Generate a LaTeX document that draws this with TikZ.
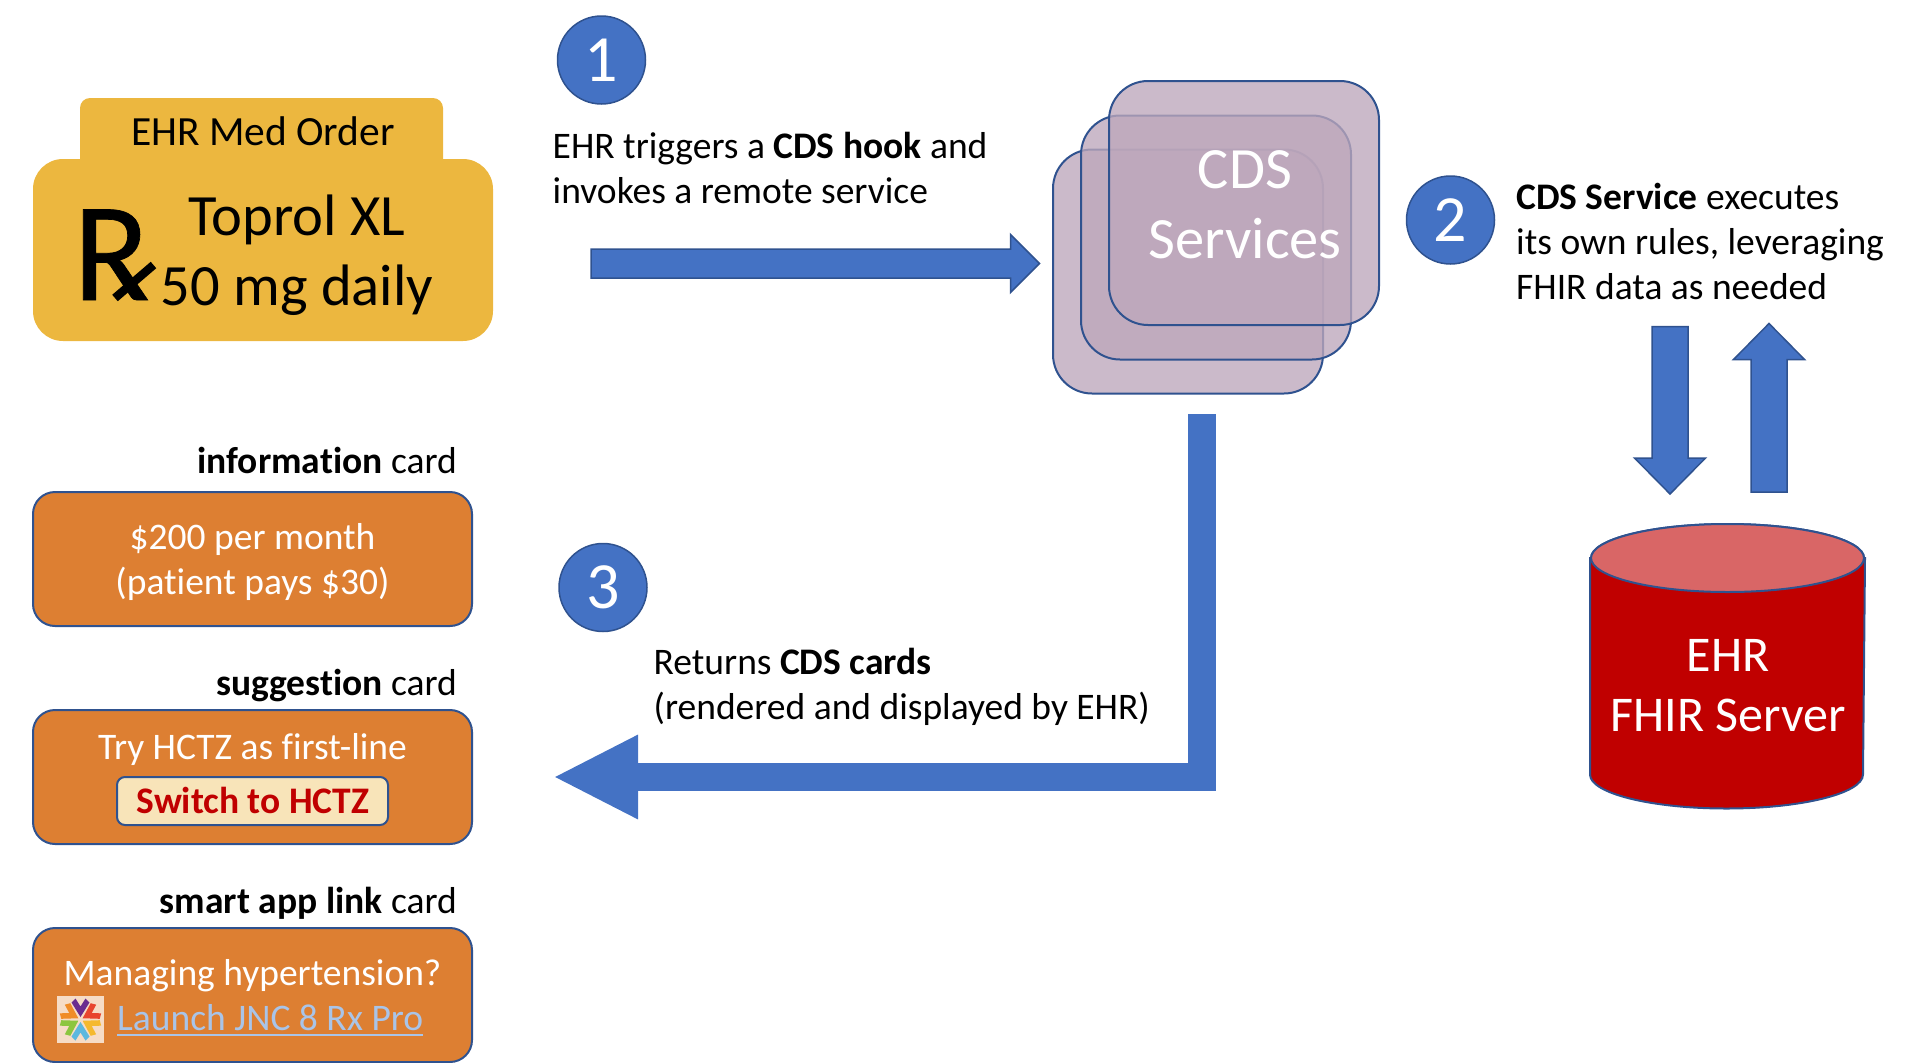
\documentclass[tikz,border=0pt]{standalone}
\usepackage{fontspec}
\usetikzlibrary{calc,shapes.geometric,arrows.meta}
\setmainfont[Ligatures=NoCommon]{Carlito}
\newfontfamily\rxfont[FakeBold=0.5]{Carlito}
\definecolor{bluefill}{HTML}{4472C4}
\definecolor{navy}{HTML}{2F528F}
\definecolor{gold}{HTML}{ECB73F}
\definecolor{cardorange}{HTML}{DD7F32}
\definecolor{mauve}{RGB}{189,167,187}
\definecolor{buttonfill}{HTML}{F8E4B9}
\definecolor{darkred}{HTML}{C00000}
\definecolor{toptint}{HTML}{D96666}
\definecolor{linkblue}{HTML}{A9C4E8}
\definecolor{iconbg}{HTML}{F6DCC6}
\newcommand{\blockarrow}[5]{%
  \coordinate (bam) at ($(#2)!#5!(#1)$);
  \path[blockshape] ($(#1)!#3!90:(#2)$) -- ($(bam)!#3!90:(#2)$) -- ($(bam)!#4!90:(#2)$) -- (#2)
    -- ($(bam)!#4!-90:(#2)$) -- ($(bam)!#3!-90:(#2)$) -- ($(#1)!#3!-90:(#2)$) -- cycle;}
\tikzset{
  x=1pt,y=-1pt,
  blockshape/.style={fill=bluefill,draw=navy,line width=1.5pt},
  body/.style={inner sep=0pt,font=\fontsize{37.5}{45}\selectfont,align=left,anchor=base west},
  labeltext/.style={inner sep=0pt,font=\fontsize{37.5}{45}\selectfont,anchor=base east},
  cardtext/.style={inner sep=0pt,font=\fontsize{37.5}{45}\selectfont,align=center,anchor=base,text=white},
  bigtext/.style={inner sep=0pt,font=\fontsize{58.5}{70}\selectfont,align=center,anchor=base},
  cardbox/.style={draw=navy,line width=2pt,fill=cardorange,rounded corners=22pt,minimum width=439pt,minimum height=134pt,inner sep=0pt},
  goldbox/.style={fill=gold,inner sep=0pt},
  servicebox/.style={draw=navy,line width=2pt,fill=mauve,fill opacity=.78,rounded corners=39pt,minimum width=270pt,minimum height=244pt,inner sep=0pt},
  stepdot/.style={circle,draw=navy,line width=1.5pt,fill=bluefill,minimum size=88pt,inner sep=0pt,text=white,font=\fontsize{66}{70}\selectfont},
  dbcapstyle/.style={ellipse,draw=navy,line width=2pt,fill=toptint,minimum width=273pt,minimum height=68pt,inner sep=0pt},
}
\begin{document}
\begin{tikzpicture}
\useasboundingbox (0,0) rectangle (1915,1063);
% EHR order
\node[goldbox,rounded corners=10pt,minimum width=363pt,minimum height=80pt] (tab) at (261.5,138) {};
\node[goldbox,rounded corners=30pt,minimum width=460pt,minimum height=182pt] (order) at (263,250) {};
\node[inner sep=0pt,font=\fontsize{41.5}{45}\selectfont,anchor=base] (ordertitle) at (263,145.5) {EHR Med Order};
\node[inner sep=0pt,font=\rxfont\fontsize{141}{141}\selectfont,anchor=base west] (rx) at (73,300) {R};
\draw[black,line width=8.5pt] (153.5,265) -- (115,298);
\node[bigtext] (drug) at (297,305) {Toprol XL\\50 mg daily};
% step 1
\node[stepdot] (one) at (601.5,60) {1};
\node[body] (onetext) at (552.5,203) {EHR triggers a \textbf{CDS hook} and\\invokes a remote service};
\coordinate (a1s) at (591,263.5);
\coordinate (a1e) at (1039.5,263.5);
\blockarrow{a1s}{a1e}{14.5pt}{29pt}{29pt}
% CDS services
\node[servicebox] (svc1) at (1188,271.5) {};
\node[servicebox] (svc2) at (1216,237.5) {};
\node[servicebox] (svc3) at (1244,203) {};
\node[bigtext,text=white] (svctext) at (1245,258) {CDS\\Services};
% step 2
\node[stepdot] (two) at (1450.5,220) {2};
\node[body] (twotext) at (1516,299) {\textbf{CDS Service} executes\\its own rules, leveraging\\FHIR data as needed};
\coordinate (a2s) at (1670,326.5);
\coordinate (a2e) at (1670,494);
\blockarrow{a2s}{a2e}{18pt}{35.5pt}{36pt}
\coordinate (a3s) at (1769,492);
\coordinate (a3e) at (1769,323.5);
\blockarrow{a3s}{a3e}{18pt}{35.5pt}{36pt}
% EHR server
\node[dbcapstyle] (dbtop) at (1727.5,558) {};
\path[draw=navy,line width=2pt,fill=darkred] (dbtop.west) -- ++(0,216.5) arc[start angle=180,end angle=0,x radius=136.5,y radius=34] -- (dbtop.east) -- cycle;
\node[dbcapstyle] (dbcap) at (1727.5,558) {};
\node[inner sep=0pt,font=\fontsize{50}{60}\selectfont,align=center,anchor=base,text=white] (dbtext) at (1728,731) {EHR\\FHIR Server};
% step 3
\node[stepdot] (three) at (603,587.5) {3};
\node[body] (threetext) at (653.5,719) {Returns \textbf{CDS cards}\\(rendered and displayed by EHR)};
\coordinate (a4s) at (1202,414);
\coordinate (a4c) at (1202,777);
\coordinate (a4e) at (553,777);
\draw[bluefill,line width=28pt,-{Triangle[length=85pt,width=78pt]}] (a4s) -- (a4c) -- (a4e);
% cards
\node[labeltext] (infolabel) at (457,473) {\textbf{information} card};
\node[cardbox] (infocard) at (252.5,559) {};
\node[cardtext] (infotext) at (252.5,594) {\$200 per month\\(patient pays \$30)};
\node[labeltext] (suglabel) at (457,695) {\textbf{suggestion} card};
\node[cardbox] (sugcard) at (252.5,777) {};
\node[cardtext] (sugtext) at (252.5,759) {Try HCTZ as first-line};
\node[draw=navy,line width=2pt,fill=buttonfill,rounded corners=8pt,minimum width=271pt,minimum height=48pt,inner sep=0pt] (button) at (252.5,801) {};
\node[inner sep=0pt,font=\fontsize{37.5}{45}\selectfont\bfseries,text=darkred,anchor=base] (buttontext) at (253,813) {Switch to HCTZ};
\node[labeltext] (smartlabel) at (457,913) {\textbf{smart app link} card};
\node[cardbox] (smartcard) at (252.5,995) {};
\node[cardtext] (smarttext) at (252.5,985) {Managing hypertension?};
\node[inner sep=0pt,font=\fontsize{37.5}{45}\selectfont,text=linkblue,anchor=base west] (linktext) at (117,1030) {Launch JNC 8 Rx Pro};
\draw[linkblue,line width=1.8pt] ([yshift=-5pt]linktext.base west) -- ([yshift=-5pt]linktext.base east);
% app icon
\node[fill=iconbg,minimum size=47pt,inner sep=0pt] (icon) at (80.5,1019.5) {};
\foreach \ang/\col in {0/6B2C8F,60/F08C28,120/8CC63F,180/5BB8DF,240/F5B92E,300/E8452E}{
  \definecolor{armcol}{HTML}{\col}
  \fill[armcol,shift={(icon.center)},rotate=\ang] (0,-2.5) -- (9,-17) -- (5,-21) -- (0,-13) -- (-5,-21) -- (-9,-17) -- cycle;
}
\end{tikzpicture}
\end{document}
